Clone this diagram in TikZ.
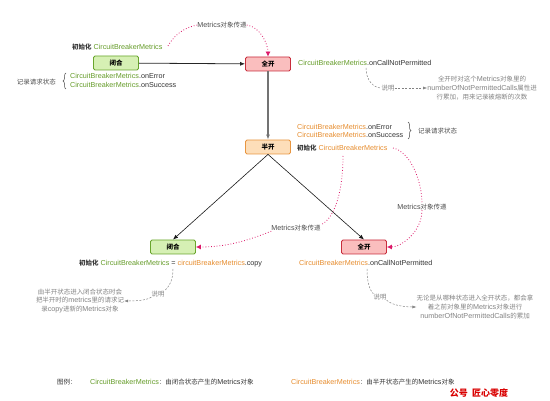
\documentclass[tikz,border=0pt]{standalone}
\usepackage{fontspec}
\setmainfont{Liberation Sans}
\newfontfamily\cjk[Scale=0.9]{Noto Sans CJK SC}
\newcommand\zh[1]{{\cjk #1}}
\usetikzlibrary{arrows.meta,decorations.pathreplacing}
\definecolor{cgreen}{RGB}{100,155,40}
\definecolor{corange}{RGB}{230,140,45}
\definecolor{cmag}{RGB}{220,25,105}
\definecolor{cgraytxt}{RGB}{130,130,130}
\definecolor{gfill}{RGB}{214,240,180}
\definecolor{gdraw}{RGB}{105,165,45}
\definecolor{rfill}{RGB}{250,190,190}
\definecolor{rdraw}{RGB}{200,45,60}
\definecolor{ofill}{RGB}{253,222,185}
\definecolor{odraw}{RGB}{232,150,65}
\newcommand\G[1]{\textcolor{cgreen}{#1}}
\newcommand\Or[1]{\textcolor{corange}{#1}}
\begin{document}
\begin{tikzpicture}[x=1pt,y=-1pt, font=\fontsize{7.2}{8.6}\selectfont,
 state/.style={draw, rounded corners=1.5pt, minimum width=45pt, minimum height=14pt, line width=0.8pt, inner sep=0pt, font=\fontsize{7.2}{8.6}\selectfont\bfseries},
 closed/.style={state, fill=gfill, draw=gdraw},
 open/.style={state, fill=rfill, draw=rdraw},
 half/.style={state, fill=ofill, draw=odraw},
 txt/.style={inner sep=0pt, text=black!80, anchor=west},
 note/.style={inner sep=0pt, text=cgraytxt, align=center},
 magline/.style={cmag, dotted, line width=0.8pt},
 magarrow/.style={magline, -{Latex[length=5pt,width=5pt]}},
 dashline/.style={cgraytxt, line width=0.5pt, dash pattern=on 2pt off 1.5pt},
 brc/.style={decorate, decoration={brace, amplitude=3pt}, black!70, line width=0.5pt}]
\useasboundingbox (0,0) rectangle (550,401);

% states
\node[closed] (c1) at (116,63) {\zh{闭合}};
\node[open] (o1) at (268,64) {\zh{全开}};
\node[half] (h) at (268,147) {\zh{半开}};
\node[closed] (c2) at (173,247) {\zh{闭合}};
\node[open] (o2) at (364,247) {\zh{全开}};

% main connectors
\draw[line width=0.8pt, black!85, -{Latex[length=5pt,width=4pt]}] (c1) -- (o1);
\draw[line width=1.3pt, black!55, -{Latex[length=5pt,width=4pt]}] (o1) -- (h);
\draw[line width=0.6pt, black!90, -{Latex[length=5pt,width=4pt]}] (h.south) -- (c2.north);
\draw[line width=0.6pt, black!90, -{Latex[length=5pt,width=4pt]}] (h.south) -- (o2.north);

% closed (top) texts
\node[txt] (init1) at (72,47) {\textbf{\zh{初始化}} \G{CircuitBreakerMetrics}};
\node[inner sep=0pt, text=black!70] (pass1) at (222,25) {Metrics\zh{对象传递}};
\node[inner sep=0pt, text=black!70, anchor=east] (rec1) at (56,82) {\zh{记录请求状态}};
\coordinate (b1a) at (66,89);
\coordinate (b1b) at (66,73);
\draw[brc] (b1a) -- (b1b);
\node[txt] (err1) at (70,76) {\G{CircuitBreakerMetrics}.onError};
\node[txt] (suc1) at (70,85) {\G{CircuitBreakerMetrics}.onSuccess};
\coordinate (m1s) at (168,46);
\draw[magline] (m1s) .. controls +(8,-14) and +(-10,2) .. (pass1.west);
\draw[magarrow] (pass1.east) .. controls +(14,2) and +(0,-12) .. (o1.north);

% open (top) texts
\node[txt] (cnp1) at (298,63) {\G{CircuitBreakerMetrics}.onCallNotPermitted};
\node[note] (sm1) at (388,88) {\zh{说明}};
\node[note] (note1) at (482,88) {\zh{全开时对这个}Metrics\zh{对象里的}\\numberOfNotPermittedCalls\zh{属性进}\\\zh{行累加，用来记录被熔断的次数}};
\coordinate (d1s) at (366,68);
\draw[dashline] (d1s) .. controls +(0,12) and +(-8,0) .. (sm1.west);
\draw[dashline, -{Latex[length=4pt,width=3pt]}] (sm1.east) -- (note1.west);

% half-open texts
\node[txt] (err2) at (297,127) {\Or{CircuitBreakerMetrics}.onError};
\node[txt] (suc2) at (297,135) {\Or{CircuitBreakerMetrics}.onSuccess};
\coordinate (b2a) at (408,122);
\coordinate (b2b) at (408,139);
\draw[brc] (b2a) -- (b2b);
\node[inner sep=0pt, text=black!70, anchor=west] (rec2) at (418,131) {\zh{记录请求状态}};
\node[txt] (init2) at (297,148) {\textbf{\zh{初始化}} \Or{CircuitBreakerMetrics}};

% magenta transfer lines (bottom)
\node[inner sep=0pt, text=black!70] (pass2) at (296,228) {Metrics\zh{对象传递}};
\node[inner sep=0pt, text=black!70] (pass3) at (422,207) {Metrics\zh{对象传递}};
\coordinate (m2s) at (343,156);
\draw[magline] (m2s) .. controls +(0,35) and +(14,-6) .. (pass2.north east);
\draw[magarrow] (pass2.south west) .. controls +(-25,10) and +(30,0) .. (c2.east);
\coordinate (m3s) at (393,148);
\draw[magline] (m3s) .. controls +(18,4) and +(0,-22) .. (pass3.north);
\draw[magarrow] (pass3.south) .. controls +(0,22) and +(14,0) .. (o2.east);

% bottom closed texts
\node[txt] (init3) at (79,263) {\textbf{\zh{初始化}} \G{CircuitBreakerMetrics} = \Or{circuitBreakerMetrics}.copy};
\node[note] (sm2) at (158,294) {\zh{说明}};
\node[note] (note2) at (80,301) {\zh{由半开状态进入闭合状态时会}\\\zh{把半开时的}metrics\zh{里的请求记}\\\zh{录}copy\zh{进新的}Metrics\zh{对象}};
\coordinate (d2s) at (173,269);
\draw[dashline] (d2s) .. controls +(0,12) and +(4,-4) .. (sm2.north east);
\draw[dashline, -{Latex[length=4pt,width=3pt]}] (sm2.south west) .. controls +(-6,4) and +(6,0) .. (note2.east);

% bottom open texts
\node[txt] (cnp2) at (299,263) {\Or{CircuitBreakerMetrics}.onCallNotPermitted};
\node[note] (sm3) at (380,297) {\zh{说明}};
\node[note] (note3) at (475,307) {\zh{无论是从哪种状态进入全开状态，都会拿}\\\zh{着之前对象里的}Metrics\zh{对象进行}\\numberOfNotPermittedCalls\zh{的累加}};
\coordinate (d3s) at (367,269);
\draw[dashline] (d3s) .. controls +(0,12) and +(-4,-4) .. (sm3.north west);
\draw[dashline, -{Latex[length=4pt,width=3pt]}] (sm3.south east) .. controls +(6,6) and +(-8,0) .. (note3.west);

% legend
\node[txt] (lg) at (57,382) {\zh{图例：}};
\node[txt] (lg1) at (90,382) {\G{CircuitBreakerMetrics}\zh{：由闭合状态产生的}Metrics\zh{对象}};
\node[txt] (lg2) at (291,382) {\Or{CircuitBreakerMetrics}\zh{：由半开状态产生的}Metrics\zh{对象}};
\node[inner sep=0pt, text=red!85!black, font=\fontsize{10}{12}\selectfont\bfseries] (wm) at (479,393) {\zh{公号\ \ 匠心零度}};
\end{tikzpicture}
\end{document}
